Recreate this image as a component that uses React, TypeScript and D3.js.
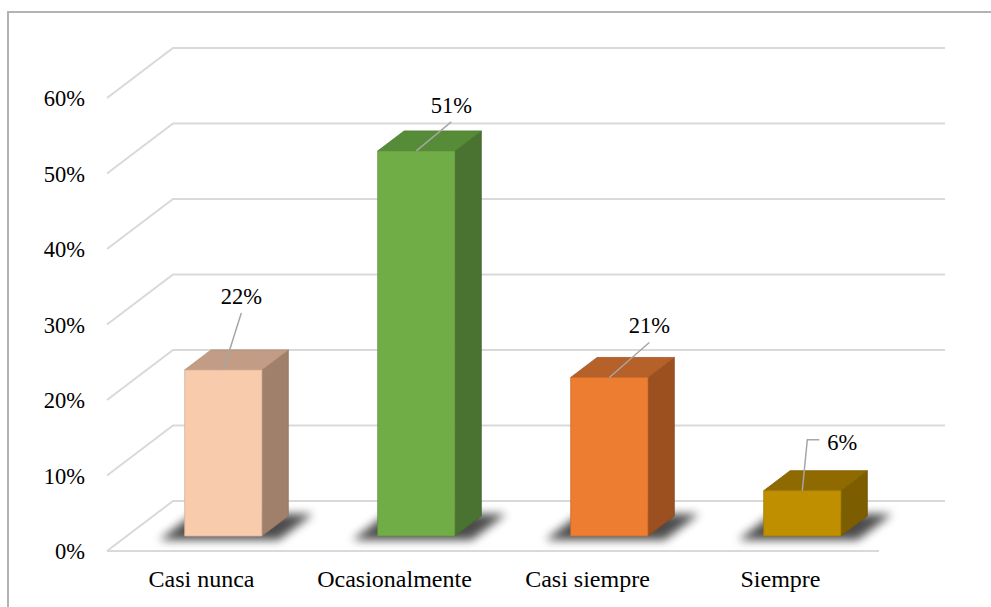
import React from "react";
import * as d3 from "d3";

// Survey answer shares
const categories = ["Casi nunca", "Ocasionalmente", "Casi siempre", "Siempre"];
const shares = [0.22, 0.51, 0.21, 0.06];
const valueLabels = ["22%", "51%", "21%", "6%"];
const yTicks = [0, 0.1, 0.2, 0.3, 0.4, 0.5, 0.6];

// Face colours per bar: front, top, side
const frontColors = ["#F8CBAD", "#70AD47", "#ED7D31", "#BF8F00"];
const topColors = ["#C29C84", "#568B37", "#B6602A", "#8E6A00"];
const sideColors = ["#A0806B", "#4A7230", "#9C5020", "#7C5D00"];

// Data-label placement relative to each bar's top-front centre
const labelOffsets: [number, number][] = [
  [18, -66],
  [35, -38],
  [40, -44],
  [40, -41],
];

const W = 991;
const H = 607;
const FONT = '"Liberation Serif", "DejaVu Serif", serif';
const FS = 22.5;
const textStyle: React.CSSProperties = { fontFamily: FONT, fontSize: FS };
const catStyle: React.CSSProperties = { fontFamily: FONT, fontSize: 24 };

// Oblique projection of the 3-D plot box
const frontLeft = 107;
const plotW = 772;
const depthX = 66;
const depthY = -50;
const zFront = 0.3;
const zBack = 0.7;

const x = d3.scaleBand<string>().domain(categories).range([frontLeft, frontLeft + plotW]).paddingInner(0.6).paddingOuter(0.3);
const xCat = d3.scaleBand<string>().domain(categories).range([frontLeft, frontLeft + plotW]);
const y = d3.scaleLinear().domain([0, 0.6]).range([551, 98]);

const P = (px: number, v: number, z: number): [number, number] => [px + depthX * z, y(v) + depthY * z];
const poly = (pts: [number, number][]) => pts.map((p) => p.join(",")).join(" ");

export default function App() {
  const gridColor = "#d9d9d9";
  const back0 = P(frontLeft, 0, 1);
  const backRight = frontLeft + plotW + depthX;

  return (
    <svg
      width={W}
      height={H}
      style={{ position: "absolute", left: 0, top: 0, background: "#fff" }}
    >
      <defs>
        <filter id="shadowBlur" x="-50%" y="-100%" width="200%" height="300%">
          <feGaussianBlur stdDeviation="5" />
        </filter>
      </defs>

      {/* outer frame */}
      <path d={`M8,${H + 5} L8,12 L${W + 5},12`} fill="none" stroke="#b3b3b3" strokeWidth={2} />

      {/* gridlines: left wall diagonal + back wall */}
      {yTicks.map((t) => {
        const a = P(frontLeft, t, 0);
        const b = P(frontLeft, t, 1);
        return (
          <polyline
            key={t}
            points={poly([a, b, [backRight, b[1]]])}
            fill="none"
            stroke={gridColor}
            strokeWidth={2}
          />
        );
      })}
      {/* floor edges */}
      <line x1={frontLeft} x2={frontLeft + plotW} y1={y(0)} y2={y(0)} stroke={gridColor} strokeWidth={2} />
      <line x1={back0[0]} x2={backRight} y1={back0[1]} y2={back0[1]} stroke={gridColor} strokeWidth={2} />

      {/* y tick labels */}
      {yTicks.map((t) => (
        <text key={t} x={85} y={y(t) + 8} textAnchor="end" style={textStyle} fill="#000">
          {d3.format(".0%")(t)}
        </text>
      ))}

      {/* floor shadows */}
      {categories.map((c, i) => {
        const x0 = x(c)! - 20;
        const x1 = x(c)! + x.bandwidth() + 22;
        const pts = [P(x0, 0, zFront - 0.08), P(x1, 0, zFront - 0.08), P(x1, 0, zBack + 0.04), P(x0, 0, zBack + 0.04)];
        return <polygon key={i} points={poly(pts)} fill="#000" opacity={0.7} filter="url(#shadowBlur)" />;
      })}

      {/* bars */}
      {categories.map((c, i) => {
        const x0 = x(c)!;
        const x1 = x0 + x.bandwidth();
        const v = shares[i];
        const front = [P(x0, 0, zFront), P(x1, 0, zFront), P(x1, v, zFront), P(x0, v, zFront)];
        const top = [P(x0, v, zFront), P(x1, v, zFront), P(x1, v, zBack), P(x0, v, zBack)];
        const side = [P(x1, 0, zFront), P(x1, 0, zBack), P(x1, v, zBack), P(x1, v, zFront)];
        return (
          <g key={c} strokeWidth={0.8} strokeLinejoin="round">
            <polygon points={poly(side)} fill={sideColors[i]} stroke={d3.color(sideColors[i])!.darker(0.3).toString()} />
            <polygon points={poly(top)} fill={topColors[i]} stroke={d3.color(topColors[i])!.darker(0.3).toString()} />
            <polygon points={poly(front)} fill={frontColors[i]} stroke={d3.color(frontColors[i])!.darker(0.4).toString()} />
          </g>
        );
      })}

      {/* data labels with leader lines */}
      {categories.map((c, i) => {
        const cx = x(c)! + x.bandwidth() / 2;
        const [sx, sy] = P(cx, shares[i], zFront);
        const [dx, dy] = labelOffsets[i];
        const lx = sx + dx;
        const ly = sy + dy;
        const elbow = i === 3;
        const leader = elbow
          ? `M${sx},${sy} L${sx + 5},${ly - 10} L${sx + 17},${ly - 10}`
          : `M${sx},${sy} L${lx},${ly + 9}`;
        return (
          <g key={c}>
            <path d={leader} fill="none" stroke="#a6a6a6" strokeWidth={1.5} />
            <text x={lx} y={ly} textAnchor="middle" style={textStyle} fill="#000">
              {valueLabels[i]}
            </text>
          </g>
        );
      })}

      {/* category labels */}
      {categories.map((c) => (
        <text key={c} x={xCat(c)! + xCat.bandwidth() / 2 - 2} y={587} textAnchor="middle" style={catStyle} fill="#000">
          {c}
        </text>
      ))}
    </svg>
  );
}
